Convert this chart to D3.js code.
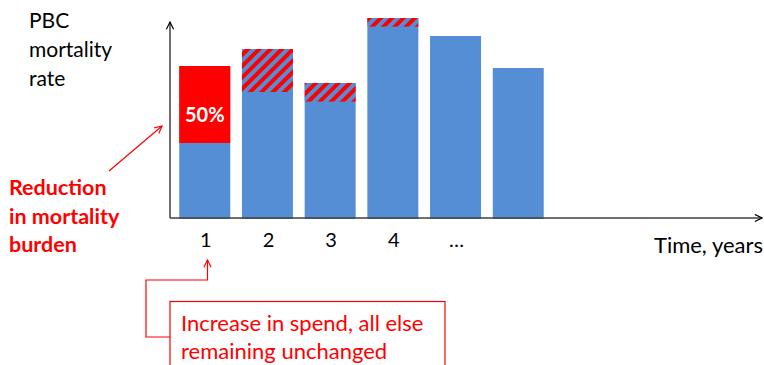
<!DOCTYPE html>
<html>
<head>
<meta charset="utf-8" />
<title>PBC mortality rate</title>
<script src="https://cdn.jsdelivr.net/npm/d3@7"></script>
<style>
	body { margin: 0; background: #fff; }
	svg { display: block; font-family: 'Lato', 'Open Sans', sans-serif; }
</style>
</head>
<body>
<svg id="chart" width="764" height="365"></svg>
<script>
// values (y scale: 0..100)
const years = ['1', '2', '3', '4', '5', '6'];
const tickLabels = ['1', '2', '3', '4', '…', ''];
const mortality = [76, 84.5, 67.5, 100, 91, 75];
const reduction = [38.5, 21.5, 9.3, 4.3, 0, 0];
const reductionStyle = ['solid', 'hatch', 'hatch', 'hatch', 'none', 'none'];

const blue = '#558ed5';
const red = '#ff0000';
const axisColor = '#404040';

const svg = d3.select('#chart');

const x = d3.scaleBand().domain(years).range([173, 550])
	.paddingInner(0.187).paddingOuter(0.1);
const y = d3.scaleLinear().domain([0, 100]).range([218, 18]);

// hatch pattern
const defs = svg.append('defs');
const pat = defs.append('pattern')
	.attr('id', 'hatch')
	.attr('patternUnits', 'userSpaceOnUse')
	.attr('width', 8).attr('height', 8)
	.attr('patternTransform', 'rotate(45)');
pat.append('rect').attr('width', 8).attr('height', 8).attr('fill', blue);
pat.append('rect').attr('width', 4).attr('height', 8).attr('fill', red);

const marker = (id, color) => {
	defs.append('marker')
		.attr('id', id)
		.attr('viewBox', '0 0 10 10')
		.attr('refX', 9).attr('refY', 5)
		.attr('markerWidth', 9).attr('markerHeight', 9)
		.attr('markerUnits', 'userSpaceOnUse')
		.attr('orient', 'auto')
		.append('path')
		.attr('d', 'M1,1 L9,5 L1,9')
		.attr('fill', 'none')
		.attr('stroke', color)
		.attr('stroke-width', 1.3);
};
marker('arrowBlack', '#000');
marker('arrowRed', red);

const data = years.map((d, i) => ({
	year: d, total: mortality[i], cut: reduction[i], style: reductionStyle[i]
}));

// bars
svg.append('g').selectAll('rect').data(data).enter().append('rect')
	.attr('x', (d) => x(d.year))
	.attr('width', x.bandwidth())
	.attr('y', (d) => y(d.total))
	.attr('height', (d) => y(0) - y(d.total) + 1)
	.attr('fill', blue);

svg.append('g').selectAll('rect').data(data.filter((d) => d.style !== 'none')).enter().append('rect')
	.attr('x', (d) => x(d.year))
	.attr('width', x.bandwidth())
	.attr('y', (d) => y(d.total))
	.attr('height', (d) => y(0) - y(d.cut))
	.attr('fill', (d) => d.style === 'solid' ? red : 'url(#hatch)');

// 50% label
const first = data[0];
svg.append('text')
	.attr('x', x(first.year) + x.bandwidth() / 2)
	.attr('y', 122)
	.attr('text-anchor', 'middle')
	.attr('fill', '#fff')
	.attr('font-weight', 'bold')
	.attr('font-size', 20)
	.text('50%');

// axes
svg.append('line')
	.attr('x1', 170).attr('y1', y(0)).attr('x2', 170).attr('y2', 22)
	.attr('stroke', axisColor).attr('stroke-width', 1.5)
	.attr('marker-end', 'url(#arrowBlack)');
svg.append('line')
	.attr('x1', 170).attr('y1', y(0)).attr('x2', 762).attr('y2', y(0))
	.attr('stroke', axisColor).attr('stroke-width', 1.5)
	.attr('marker-end', 'url(#arrowBlack)');

svg.append('g').selectAll('text').data(years).enter().append('text')
	.attr('x', (d) => x(d) + x.bandwidth() / 2 + 1)
	.attr('y', 247)
	.attr('text-anchor', 'middle')
	.attr('font-size', 20)
	.attr('fill', '#000')
	.text((d, i) => tickLabels[i]);

svg.append('text')
	.attr('x', 763).attr('y', 253)
	.attr('text-anchor', 'end')
	.attr('font-size', 22)
	.text('Time, years');

svg.append('g').selectAll('text').data(['PBC', 'mortality', 'rate']).enter().append('text')
	.attr('x', 29)
	.attr('y', (d, i) => 28 + i * 29)
	.attr('font-size', 21)
	.text((d) => d);

// red annotations
svg.append('g').selectAll('text').data(['Reduction', 'in mortality', 'burden']).enter().append('text')
	.attr('x', 9)
	.attr('y', (d, i) => 195 + i * 28.5)
	.attr('font-size', 21.5)
	.attr('font-weight', 'bold')
	.attr('fill', red)
	.text((d) => d);

svg.append('line')
	.attr('x1', 109).attr('y1', 171).attr('x2', 162).attr('y2', 126)
	.attr('stroke', red).attr('stroke-width', 1.2)
	.attr('marker-end', 'url(#arrowRed)');

svg.append('rect')
	.attr('x', 170).attr('y', 301.5).attr('width', 275).attr('height', 80)
	.attr('fill', 'none').attr('stroke', red).attr('stroke-width', 1.2);

svg.append('path')
	.attr('d', 'M170,337 H146 V280 H207.5 V260')
	.attr('fill', 'none').attr('stroke', red).attr('stroke-width', 1.2)
	.attr('marker-end', 'url(#arrowRed)');

svg.append('g').selectAll('text').data(['Increase in spend, all else', 'remaining unchanged']).enter().append('text')
	.attr('x', 181)
	.attr('y', (d, i) => 331 + i * 27.5)
	.attr('font-size', 22)
	.attr('fill', red)
	.text((d) => d);
</script>
</body>
</html>
